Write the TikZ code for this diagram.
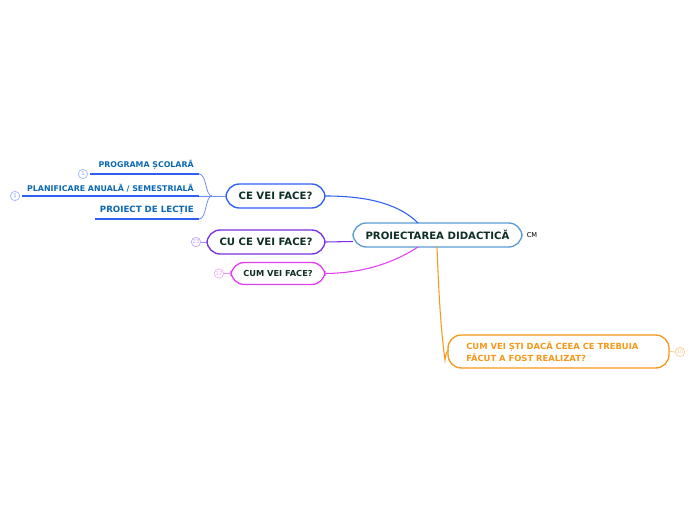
\documentclass[tikz,border=0pt]{standalone}
\usepackage{fontspec}
\setmainfont{DejaVu Sans}
\definecolor{cblue}{HTML}{5B9BD5}
\definecolor{bblue}{HTML}{2F5FF0}
\definecolor{lblue}{HTML}{0B67B2}
\definecolor{cpurple}{HTML}{7A2FE8}
\definecolor{cmag}{HTML}{E23EF2}
\definecolor{corange}{HTML}{F5981C}
\definecolor{dtext}{HTML}{0F2E26}
\tikzset{
  topic/.style={draw, rounded corners=10pt, line width=1pt, fill=white, text=dtext, font=\bfseries\fontsize{7.6}{9}\selectfont, inner sep=0pt},
  sublabel/.style={text=lblue, font=\bfseries\fontsize{5.9}{7}\selectfont, inner sep=0pt, anchor=south east},
  badge/.style={circle, draw, line width=0.5pt, minimum size=7pt, inner sep=0pt, font=\fontsize{4}{4}\selectfont},
  conn/.style={line width=0.8pt},
}
\begin{document}
\begin{tikzpicture}[x=0.75pt,y=-0.75pt]
\useasboundingbox (0,0) rectangle (697,520);
% central
\node[topic, draw=cblue, minimum width=169*0.75pt, minimum height=24*0.75pt] (c) at (437.5,235) {PROIECTAREA DIDACTICĂ};
\node[font=\fontsize{5}{6}\selectfont, inner sep=0pt] (cm) at (532,235.5) {CM};
% CE VEI FACE
\node[topic, draw=bblue, minimum width=99*0.75pt, minimum height=24*0.75pt] (ce) at (275.5,196) {CE VEI FACE?};
% CU CE VEI FACE
\node[topic, draw=cpurple, minimum width=118*0.75pt, minimum height=24*0.75pt] (cu) at (266,242) {CU CE VEI FACE?};
\node[badge, draw=cpurple!45, text=cpurple!45] (b23) at (196,242) {23};
% CUM VEI FACE
\node[topic, draw=cmag, minimum width=94*0.75pt, minimum height=22*0.75pt, font=\bfseries\fontsize{6.2}{7}\selectfont] (cum) at (278,273.5) {CUM VEI FACE?};
\node[badge, draw=cmag!45, text=cmag!45] (b17) at (219,273.5) {17};
% orange
\node[topic, draw=corange, text=corange, minimum width=221*0.75pt, minimum height=33*0.75pt] (how) at (558.5,351.5) {};
\node[text=corange, font=\bfseries\fontsize{6.3}{9}\selectfont, align=left, anchor=west, inner sep=0pt] (howt) at (466,351.5) {CUM VEI ȘTI DACĂ CEEA CE TREBUIA\\FĂCUT A FOST REALIZAT?};
\node[badge, draw=corange!45, text=corange!45] (b10) at (680,352) {10};
% sub-topics under CE VEI FACE
\coordinate (u1e) at (199,174); \coordinate (u1s) at (90,174);
\coordinate (u2e) at (199,196); \coordinate (u2s) at (22,196);
\coordinate (u3e) at (199,219); \coordinate (u3s) at (95,219);
\node[sublabel] (l1) at (194,170) {PROGRAMA ȘCOLARĂ};
\node[sublabel] (l2) at (194,192) {PLANIFICARE ANUALĂ / SEMESTRIALĂ};
\node[sublabel, font=\bfseries\fontsize{6.5}{7}\selectfont] (l3) at (194,215) {PROIECT DE LECȚIE};
\draw[bblue, line width=1.6pt] (u1s) -- (u1e);
\draw[bblue, line width=1.6pt] (u2s) -- (u2e);
\draw[bblue, line width=1.6pt] (u3s) -- (u3e);
\node[badge, draw=bblue!45, text=bblue!60] (b1a) at (83,174) {1};
\node[badge, draw=bblue!45, text=bblue!60] (b1b) at (15,196) {1};
\coordinate (fork) at (212,196);
\draw[bblue!70, line width=0.6pt] (ce.west) -- (fork);
\draw[bblue!70, line width=0.6pt] (fork) .. controls (205,196) and (207,174) .. (u1e);
\draw[bblue!70, line width=0.6pt] (fork) -- (u2e);
\draw[bblue!70, line width=0.6pt] (fork) .. controls (205,196) and (207,219) .. (u3e);
% central connectors
\draw[bblue, conn] (ce.east) .. controls (370,196) and (400,205) .. (418,223);
\draw[cpurple, conn] (cu.east) -- (353,241.5);
\draw[cmag, conn] (cum.east) .. controls (365,273) and (395,262) .. (418,247);
\draw[corange, conn] (437,247) .. controls (439,300) and (441,330) .. (445,360) .. controls (446,352) and (447,352) .. (448.5,350);
\draw[corange!60, line width=0.5pt] (how.east) -- (b10.west);
\draw[cmag!60, line width=0.5pt] (b17.east) -- (cum.west);
\draw[cpurple!60, line width=0.5pt] (b23.east) -- (cu.west);
\end{tikzpicture}
\end{document}
